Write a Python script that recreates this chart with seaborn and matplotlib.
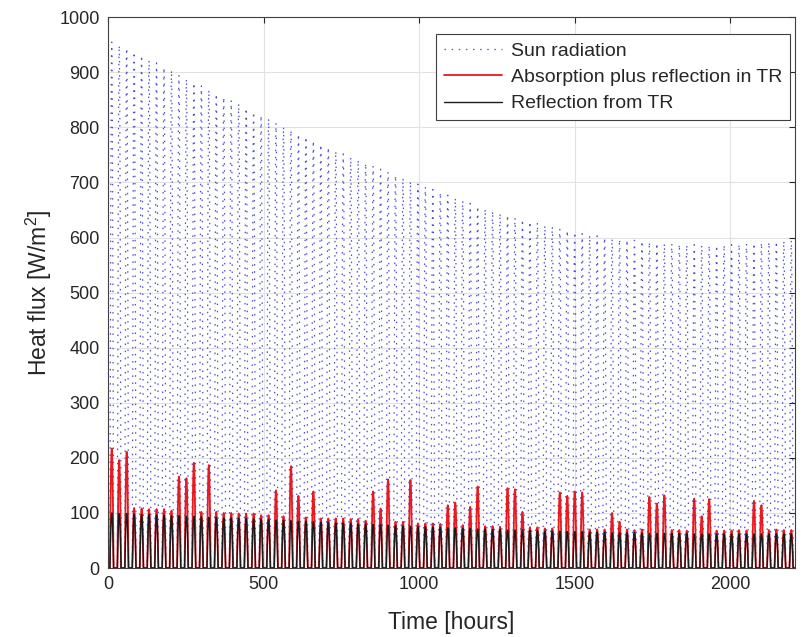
import numpy as np
import pandas as pd
import matplotlib
matplotlib.use("Agg")
import matplotlib.pyplot as plt
import seaborn as sns

# ---- data: daily peak values (W/m^2), one per day ----
sun_peak = [955, 949, 944, 937, 931, 922, 917, 909, 904, 895, 888, 881, 876, 868, 861, 855,
            849, 843, 835, 828, 822, 816, 808, 801, 795, 788, 783, 776, 769, 764, 757, 752,
            746, 741, 735, 730, 724, 719, 713, 708, 702, 697, 692, 687, 682, 677, 672, 667,
            662, 657, 652, 648,
            644, 641, 636, 633, 629, 627, 622, 620, 616, 613, 610, 607, 604, 603, 600, 598,
            597, 596, 595, 594,
            592, 590, 589, 589, 588, 587, 587, 586, 586, 586, 587, 587, 588, 589, 590, 591,
            592, 593, 594, 595]

absorb_peak = [217, 196, 211, 109, 108, 107, 107, 107, 104, 166, 163, 191, 102, 187, 102, 100,
               100, 99, 99,
               99, 96, 96, 141, 94, 185, 131, 92, 139, 90, 90, 90, 90, 89, 89, 86, 139, 108, 161,
               84, 84, 160, 81, 81, 81, 80, 114, 119, 78, 111, 148, 76, 76, 75, 145, 143, 102,
               74, 74, 72, 72, 137, 131, 139, 137, 70, 70, 70, 100, 84, 70, 69, 70, 129, 117,
               132, 69, 69, 68, 126, 94, 125, 68, 68, 68, 69, 68, 122, 114, 69, 70, 69, 69]

reflect_peak = [100, 99, 99,
                98, 97, 97, 96, 96, 95,
                95, 94, 94, 93, 92, 92, 91, 91, 90, 90,
                89, 89, 88, 87, 87, 86, 85, 85, 84, 83, 83, 82, 82, 81, 80, 80, 79, 79, 78,
                77, 76, 76, 75, 75, 74, 74, 73, 73, 72, 72, 71, 71, 70, 70, 69, 69, 69,
                68, 68, 67, 67, 67, 66, 66, 66, 65, 65, 65, 64, 64, 64, 64, 63, 63, 63,
                63, 63, 63, 63, 62, 62, 62, 62, 62, 62, 62, 62, 62, 62, 62, 62, 62, 62]

# relative diurnal shape (fraction of the daily peak) for hours 0..23
day_profile = [0, 0, 0, 0, 0, 0, 0, 0.26, 0.50, 0.71, 0.87, 0.97,
               1.00, 0.97, 0.87, 0.71, 0.50, 0.26, 0, 0, 0, 0, 0, 0]

series_labels = ["Sun radiation", "Absorption plus reflection in TR", "Reflection from TR"]
x_ticks = [0, 500, 1000, 1500, 2000]
y_ticks = [0, 100, 200, 300, 400, 500, 600, 700, 800, 900, 1000]

# ---- build hourly table ----
n_days = len(sun_peak)
hours = np.arange(n_days * 24)
prof = np.tile(np.array(day_profile), n_days)


def hourly(peaks):
    return np.repeat(np.array(peaks, dtype=float), 24) * prof


df = pd.DataFrame({
    "Time": hours,
    "sun": hourly(sun_peak),
    "absorb": hourly(absorb_peak),
    "reflect": hourly(reflect_peak),
})

# ---- style ----
sns.set_style("white")
plt.rcParams["font.family"] = ["Liberation Sans", "DejaVu Sans"]
plt.rcParams["mathtext.default"] = "regular"

fig = plt.figure(figsize=(8.06, 6.37), dpi=100)
ax = fig.add_axes([0.134, 0.1083, 0.8524, 0.8647])

sns.lineplot(data=df, x="Time", y="sun", ax=ax, color=(0.3, 0.3, 0.85), lw=0.9,
             linestyle=(0, (1.2, 4.5)), label=series_labels[0], estimator=None)
sns.lineplot(data=df, x="Time", y="absorb", ax=ax, color="#e8191f", lw=1.3,
             label=series_labels[1], estimator=None)
sns.lineplot(data=df, x="Time", y="reflect", ax=ax, color="#1a1a1a", lw=1.0,
             label=series_labels[2], estimator=None)

ax.set_xlim(0, n_days * 24)
ax.set_ylim(0, 1000)
ax.set_xticks(x_ticks)
ax.set_yticks(y_ticks)
ax.grid(True, color="#e2e2e2", lw=0.8)
ax.set_axisbelow(True)
for s in ax.spines.values():
    s.set_color("#404040")
    s.set_linewidth(0.8)
ax.tick_params(direction="in", length=4, width=0.8, top=True, right=True,
               labelsize=13, colors="#262626", pad=6)
ax.set_xlabel("Time [hours]", fontsize=16.5, color="#262626", labelpad=13)
ax.set_ylabel("Heat flux [W/m$^2$]", fontsize=16.5, color="#262626", labelpad=4)

leg = ax.legend(loc="upper right", bbox_to_anchor=(0.993, 0.969), borderaxespad=0,
                fontsize=14, fancybox=False, framealpha=1, edgecolor="#404040",
                handlelength=3.0, handletextpad=0.45, labelspacing=0.45, borderpad=0.4)
leg.get_frame().set_linewidth(0.8)

fig.savefig("out.png", dpi=100)
